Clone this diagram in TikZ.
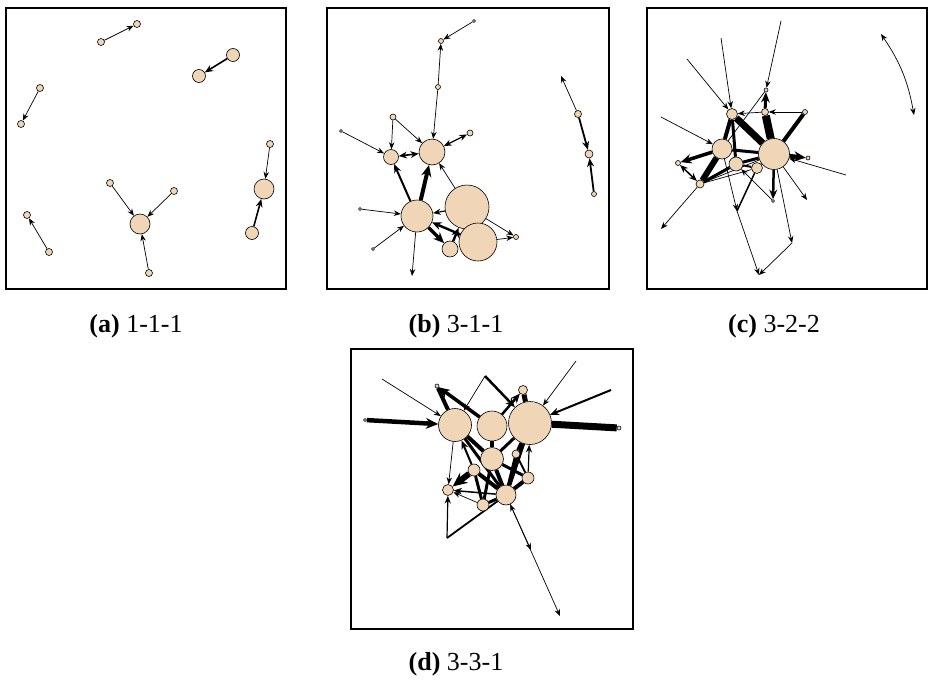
\documentclass[tikz,border=0pt]{standalone}
\usepackage{fontspec}
\setmainfont{Liberation Serif}
\usetikzlibrary{arrows.meta}
\definecolor{peach}{RGB}{240,214,183}
\pgfdeclarelayer{edges}
\pgfsetlayers{edges,main}
\tikzset{
  vtx/.style={circle, draw=black, line width=0.6pt, fill=peach, inner sep=0pt, minimum size=#1},
  vtx/.default=7pt,
  ln/.style={line width=#1},
  ln/.default=0.7pt,
  ar/.style={-{Stealth[length=6pt 1.4, width=4.5pt 1.4]}},
  bi/.style={{Stealth[length=6pt 1.4, width=4.5pt 1.4]}-{Stealth[length=6pt 1.4, width=4.5pt 1.4]}},
  frame/.style={line width=1.6pt},
  subcap/.style={font=\fontsize{26}{30}\selectfont}
}
\begin{document}
\begin{tikzpicture}[x=1pt,y=-1pt]
        \useasboundingbox (0,0) rectangle (928,680);

        % four panels, pixel grid, y down
        \draw[frame] (6,8) rectangle (286,289);
        \draw[frame] (327,8) rectangle (609,289);
        \draw[frame] (647,8) rectangle (927,289);
        \draw[frame] (351,349) rectangle (633,629);

        \node[subcap] (capa) at (136,326) {\textbf{(a)} 1-1-1};
        \node[subcap] (capb) at (456,326) {\textbf{(b)} 3-1-1};
        \node[subcap] (capc) at (774,326) {\textbf{(c)} 3-2-2};
        \node[subcap] (capd) at (456,664) {\textbf{(d)} 3-3-1};

        % (a) seven small components
        \node[vtx] (a1) at (101,42) {};
        \node[vtx] (a2) at (137,24) {};
        \node[vtx=13pt] (a3) at (233,55) {};
        \node[vtx=13pt] (a4) at (199,76) {};
        \node[vtx] (a5) at (40,88) {};
        \node[vtx] (a6) at (21,124) {};
        \node[vtx] (a7) at (270,144) {};
        \node[vtx=20pt] (a8) at (264,189) {};
        \node[vtx=13pt] (a9) at (252,233) {};
        \node[vtx] (a10) at (110,183) {};
        \node[vtx] (a11) at (174,191) {};
        \node[vtx=20pt] (a12) at (140,224) {};
        \node[vtx] (a13) at (149,273) {};
        \node[vtx] (a14) at (27,215) {};
        \node[vtx] (a15) at (49,252) {};

        \begin{pgfonlayer}{edges}
        \draw[ln,ar] (a1) -- (a2);
        \draw[ln=1.6pt,ar] (a3) -- (a4);
        \draw[ln,ar] (a5) -- (a6);
        \draw[ln,ar] (a7) -- (a8);
        \draw[ln=1.6pt,ar] (a9) -- (a8);
        \draw[ln,ar] (a10) -- (a12);
        \draw[ln,ar] (a11) -- (a12);
        \draw[ln,ar] (a13) -- (a12);
        \draw[ln,ar] (a15) -- (a14);
        \end{pgfonlayer}

        % (b) one cluster and a chain
        \node[vtx=3pt] (b1) at (474,21) {};
        \node[vtx=5pt] (b2) at (441,41) {};
        \node[vtx=5pt] (b3) at (438,87) {};
        \node[vtx=6pt] (b4) at (393,117) {};
        \node[vtx=6pt] (b5) at (470,133) {};
        \node[vtx=3pt] (b6) at (341,131) {};
        \node[vtx=15pt] (b7) at (391,157) {};
        \node[vtx=26pt] (b8) at (432,152) {};
        \node[vtx=44pt] (b9) at (467,207) {};
        \node[vtx=32pt] (b10) at (417,216) {};
        \node[vtx=38pt] (b11) at (478,242) {};
        \node[vtx=16pt] (b12) at (450,249) {};
        \node[vtx=5pt] (b13) at (516,237) {};
        \node[vtx=3pt] (b14) at (360,209) {};
        \node[vtx=3pt] (b15) at (373,249) {};
        \coordinate (b16) at (412,276);
        \coordinate (b17) at (561,76);
        \node[vtx] (b18) at (578,114) {};
        \node[vtx=8pt] (b19) at (589,154) {};
        \node[vtx=5pt] (b20) at (594,194) {};

        \begin{pgfonlayer}{edges}
        \draw[ln,ar] (b1) -- (b2);
        \draw[ln,ar] (b3) -- (b2);
        \draw[ln,ar] (b3) -- (b8);
        \draw[ln,ar] (b4) -- (b7);
        \draw[ln,ar] (b4) -- (b8);
        \draw[ln=1.2pt,bi] (b5) -- (b8);
        \draw[ln,ar] (b6) -- (b7);
        \draw[ln=1.6pt,bi] (b7) -- (b8);
        \draw[ln=2pt,ar] (b10) -- (b7);
        \draw[ln=4pt,ar] (b10) -- (b8);
        \draw[ln,ar] (b9) -- (b8);
        \draw[ln=1.2pt,ar] (b9) -- (b10);
        \draw[ln,ar] (b14) -- (b10);
        \draw[ln,ar] (b15) -- (b10);
        \draw[ln,ar] (b10) -- (b16);
        \draw[ln=2.4pt,ar] (b11) -- (b10);
        \draw[ln=3.5pt,ar] (b10) -- (b12);
        \draw[ln=2.4pt,ar] (b12) -- (b9);
        \draw[ln,ar] (b9) -- (b13);
        \draw[ln,ar] (b11) -- (b13);
        \draw[ln,ar] (b18) -- (b17);
        \draw[ln=1.8pt,ar] (b18) -- (b19);
        \draw[ln=1.8pt,ar] (b20) -- (b19);
        \end{pgfonlayer}

        % (c) dense core with outliers
        \node[vtx=31pt] (c1) at (774,154) {};
        \node[vtx=20pt] (c2) at (722,149) {};
        \node[vtx=11pt] (c3) at (732,114) {};
        \node[vtx=7pt] (c4) at (765,112) {};
        \node[vtx=14pt] (c5) at (736,164) {};
        \node[vtx=11pt] (c6) at (757,168) {};
        \node[vtx=5pt] (c7) at (678,163) {};
        \node[vtx=8pt] (c8) at (700,184) {};
        \node[vtx=5pt] (c9) at (805,112) {};
        \node[vtx=4pt] (c10) at (766,90) {};
        \node[vtx=4pt] (c11) at (808,158) {};
        \node[vtx=3pt] (c12) at (773,201) {};
        \coordinate (cs1) at (781,21);
        \coordinate (cs2) at (721,38);
        \coordinate (cs3) at (687,59);
        \coordinate (cs4) at (661,117);
        \coordinate (cs5) at (846,175);
        \coordinate (ct1) at (661,229);
        \coordinate (ct2) at (807,200);
        \coordinate (cj1) at (737,211);
        \coordinate (cj2) at (792,243);
        \coordinate (ct3) at (759,275);
        \coordinate (cr1) at (881,34);
        \coordinate (cr2) at (914,115);

        \begin{pgfonlayer}{edges}
        \draw[ln,ar] (cs1) -- (c10);
        \draw[ln,ar] (cs2) -- (c3);
        \draw[ln,ar] (cs3) -- (c3);
        \draw[ln,ar] (cs4) -- (c2);
        \draw[ln,ar] (cs5) -- (c1);
        \draw[ln,ar] (c9) -- (c4);
        \draw[ln,ar] (c4) -- (c3);
        \draw[ln=4pt] (c9) -- (c1);
        \draw[ln=3pt,ar] (c4) -- (c10);
        \draw[ln=8pt] (c1) -- (c4);
        \draw[ln] (c10) -- (c2);
        \draw[ln=7pt] (c3) -- (c1);
        \draw[ln=4pt] (c3) -- (c2);
        \draw[ln=3pt] (c3) -- (c5);
        \draw[ln=3.5pt,ar] (c2) -- (c7);
        \draw[ln=1.5pt,bi] (c7) -- (c8);
        \draw[ln=6pt] (c8) -- (c2);
        \draw[ln=3pt] (c8) -- (c5);
        \draw[ln] (c8) -- (c6);
        \draw[ln] (c8) -- (c1);
        \draw[ln=3pt] (c2) -- (c1);
        \draw[ln=3pt] (c5) -- (c1);
        \draw[ln=2pt] (c6) -- (c1);
        \draw[ln=2pt] (c5) -- (c6);
        \draw[ln=4pt,ar] (c1) -- (c11);
        \draw[ln,ar] (c1) -- (ct2);
        \draw[ln=2.5pt,ar] (c1) -- (c12);
        \draw[ln,ar] (c12) -- (c5);
        \draw[ln=1.5pt] (c6) -- (cj1);
        \draw[ln,ar] (c2) -- (cj1);
        \draw[ln,ar] (cj1) -- (ct3);
        \draw[ln,ar] (cj2) -- (ct3);
        \draw[ln,ar] (c1) -- (cj2);
        \draw[ln,ar] (c8) -- (ct1);
        \draw[ln,bi] (cr1) to[bend left=12] (cr2);
        \end{pgfonlayer}

        % (d) three hubs on top
        \node[vtx=33pt] (d1) at (455,425) {};
        \node[vtx=30pt] (d2) at (492,426) {};
        \node[vtx=43pt] (d3) at (530,423) {};
        \node[vtx=23pt] (d4) at (492,459) {};
        \node[vtx=12pt] (d5) at (474,470) {};
        \node[vtx=8pt] (d6) at (516,454) {};
        \node[vtx=12pt] (d7) at (528,478) {};
        \node[vtx=11pt] (d8) at (448,490) {};
        \node[vtx=20pt] (d9) at (506,495) {};
        \node[vtx=12pt] (d10) at (483,505) {};
        \node[vtx=9pt] (d11) at (523,390) {};
        \node[vtx=4pt] (d12) at (437,386) {};
        \node[vtx=3pt] (d13) at (365,420) {};
        \node[vtx=4pt] (d14) at (619,428) {};
        \coordinate (ds1) at (382,379);
        \coordinate (dj1) at (485,376);
        \coordinate (ds2) at (576,361);
        \coordinate (ds3) at (611,390);
        \coordinate (dj2) at (447,538);
        \coordinate (dm) at (531,550);
        \coordinate (de) at (560,616);

        \begin{pgfonlayer}{edges}
        \draw[ln,ar] (ds1) -- (d1);
        \draw[ln=4.5pt,ar] (d13) -- (d1);
        \draw[ln=4pt] (d12) -- (d1);
        \draw[ln=3.5pt,ar] (d2) -- (d12);
        \draw[ln,ar] (dj1) -- (d1);
        \draw[ln=2.5pt,ar] (dj1) -- (d3);
        \draw[ln=2.5pt,ar] (d2) -- (d11);
        \draw[ln=5pt] (d11) -- (d3);
        \draw[ln,ar] (ds2) -- (d3);
        \draw[ln=2pt,ar] (ds3) -- (d3);
        \draw[ln=7pt] (d3) -- (d14);
        \draw[ln,ar] (d1) -- (d8);
        \draw[ln=2pt,ar] (d5) -- (d1);
        \draw[ln=4pt] (d1) -- (d4);
        \draw[ln=3.5pt] (d2) -- (d4);
        \draw[ln=3pt] (d3) -- (d4);
        \draw[ln=4pt] (d3) -- (d9);
        \draw[ln=3pt] (d3) -- (d6);
        \draw[ln=3pt] (d1) -- (d9);
        \draw[ln=1.2pt,ar] (d7) -- (d3);
        \draw[ln=6pt,ar] (d5) -- (d8);
        \draw[ln=1.5pt,ar] (d9) -- (d8);
        \draw[ln,ar] (d10) -- (d8);
        \draw[ln=1.2pt,ar] (dj2) -- (d8);
        \draw[ln=1.8pt] (dj2) -- (d9);
        \draw[ln=4pt] (d4) -- (d9);
        \draw[ln=4pt] (d5) -- (d9);
        \draw[ln=3pt] (d5) -- (d10);
        \draw[ln=3pt] (d4) -- (d10);
        \draw[ln=3pt] (d6) -- (d9);
        \draw[ln=4pt] (d7) -- (d9);
        \draw[ln=3pt] (d4) -- (d7);
        \draw[ln=2pt] (d6) -- (d7);
        \draw[ln=3pt] (d10) -- (d9);
        \draw[ln,bi] (d9) -- (de);
        \draw[ln,ar] (d9) -- (dm);
        \end{pgfonlayer}
    \end{tikzpicture}
\end{document}
